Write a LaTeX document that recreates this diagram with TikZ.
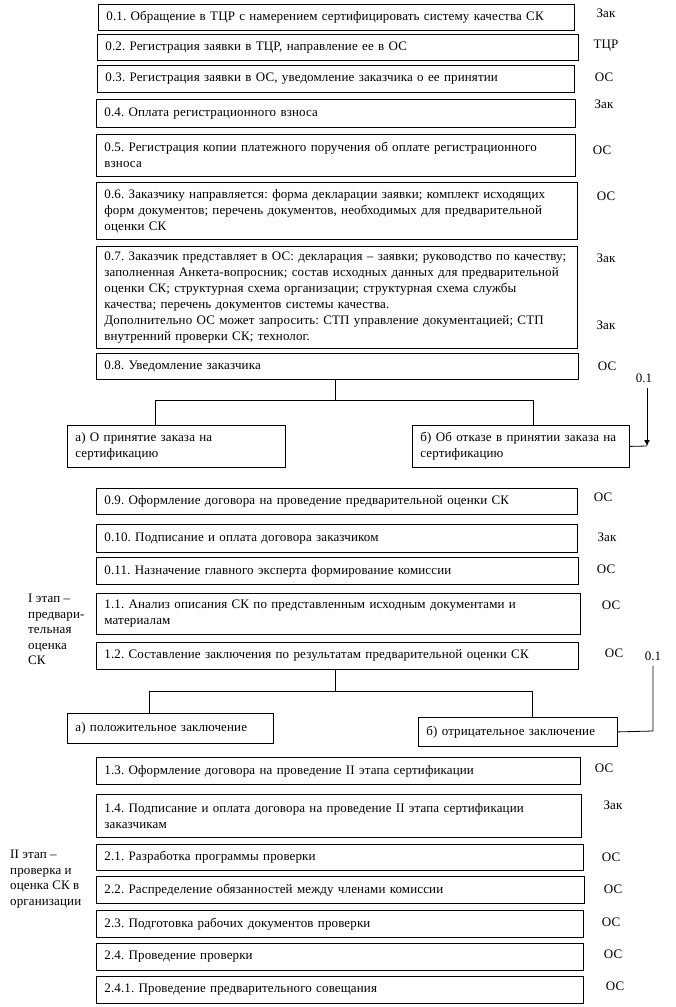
\documentclass[tikz,border=0pt]{standalone}
\usepackage{fontspec}
\setmainfont[LetterSpace=1.0]{Liberation Serif}
\usepackage{tikz}
\usetikzlibrary{arrows.meta}

\newcommand{\boxfont}{\fontsize{13}{16}\selectfont\frenchspacing}
\newcommand{\sidefont}{\fontsize{13}{15.5}\selectfont\frenchspacing}

\tikzset{
  stage/.style={draw, line width=0.8pt, anchor=north west, align=left,
    inner xsep=8pt, inner ysep=0pt, font=\boxfont},
  who/.style={inner sep=0pt, font=\boxfont},
  phase/.style={anchor=north west, align=left, inner sep=0pt, font=\sidefont},
  link/.style={line width=0.8pt}
}

\begin{document}
\begin{tikzpicture}[x=1pt, y=-1pt]
        \useasboundingbox (0,0) rectangle (675,1007);
        % Preliminary stage
        \node[stage, text width=460pt, minimum height=26pt] (n01) at (98,4) {0.1. Обращение в ТЦР с намерением сертифицировать систему качества СК};
        \node[stage, text width=465pt, minimum height=26pt] (n02) at (97,34) {0.2. Регистрация заявки в ТЦР, направление ее в ОС};
        \node[stage, text width=461pt, minimum height=27pt] (n03) at (97,65) {0.3. Регистрация заявки в ОС, уведомление заказчика о ее принятии};
        \node[stage, text width=463pt, minimum height=28pt] (n04) at (96,99) {0.4. Оплата регистрационного взноса};
        \node[stage, text width=463pt, minimum height=42pt] (n05) at (96,134) {0.5. Регистрация копии платежного поручения об оплате регистрационного\\взноса};
        \node[stage, text width=465pt, minimum height=57pt] (n06) at (96,182) {0.6. Заказчику направляется: форма декларации заявки; комплект исходящих\\форм документов; перечень документов, необходимых для предварительной\\оценки СК};
        \node[stage, text width=465pt, minimum height=102pt] (n07) at (96,246) {\mbox{0.7. Заказчик представляет в ОС: декларация – заявки; руководство по качеству;}\\заполненная Анкета-вопросник; состав исходных данных для предварительной\\оценки СК; структурная схема организации; структурная схема службы\\качества; перечень документов системы качества.\\Дополнительно ОС может запросить: СТП управление документацией; СТП\\внутренний проверки СК; технолог.};
        \node[stage, text width=466pt, minimum height=26pt] (n08) at (96,353) {0.8. Уведомление заказчика};
        \node[stage, text width=202pt, minimum height=42pt] (na) at (67,425) {а) О принятие заказа на\\сертификацию};
        \node[stage, text width=201pt, minimum height=42pt] (nb) at (412,425) {б) Об отказе в принятии заказа на\\сертификацию};
        \node[stage, text width=465pt, minimum height=26pt] (n09) at (96,488) {0.9. Оформление договора на проведение предварительной оценки СК};
        \node[stage, text width=465pt, minimum height=28pt] (n10) at (96,524) {0.10. Подписание и оплата договора заказчиком};
        \node[stage, text width=466pt, minimum height=27pt] (n11) at (96,557) {0.11. Назначение главного эксперта формирование комиссии};
        % Stage I
        \node[stage, text width=468pt, minimum height=41pt] (s11) at (96,593) {1.1. Анализ описания СК по представленным исходным документами и\\материалам};
        \node[stage, text width=466pt, minimum height=27pt] (s12) at (96,642) {1.2. Составление заключения по результатам предварительной оценки СК};
        \node[stage, text width=190pt, minimum height=30pt] (pa) at (67,713) {а) положительное заключение};
        \node[stage, text width=183pt, minimum height=29pt] (pb) at (418,717) {б) отрицательное заключение};
        \node[stage, text width=468pt, minimum height=27pt] (s13) at (96,757) {1.3. Оформление договора на проведение II этапа сертификации};
        \node[stage, text width=469pt, minimum height=43pt] (s14) at (96,794) {1.4. Подписание и оплата договора на проведение II этапа сертификации\\заказчикам};
        % Stage II
        \node[stage, text width=471pt, minimum height=26pt] (s21) at (96,844) {2.1. Разработка программы проверки};
        \node[stage, text width=472pt, minimum height=27pt] (s22) at (96,876) {2.2. Распределение обязанностей между членами комиссии};
        \node[stage, text width=471pt, minimum height=27pt] (s23) at (96,910) {2.3. Подготовка рабочих документов проверки};
        \node[stage, text width=471pt, minimum height=27pt] (s24) at (96,943) {2.4. Проведение проверки};
        \node[stage, text width=471pt, minimum height=27pt] (s241) at (96,976) {2.4.1. Проведение предварительного совещания};

        % Executors
        \node[who] (w01) at (606,13) {Зак};
        \node[who] (w02) at (606,46) {ТЦР};
        \node[who] (w03) at (604,77) {ОС};
        \node[who] (w04) at (604,104) {Зак};
        \node[who] (w05) at (602,150) {ОС};
        \node[who] (w06) at (606,196) {ОС};
        \node[who] (w07a) at (606,258) {Зак};
        \node[who] (w07b) at (606,325) {Зак};
        \node[who] (w08) at (607,366) {ОС};
        \node[who] (w09) at (603,497) {ОС};
        \node[who] (w10) at (607,537) {Зак};
        \node[who] (w11) at (606,569) {ОС};
        \node[who] (v11) at (611,605) {ОС};
        \node[who] (v12) at (614,653) {ОС};
        \node[who] (v13) at (604,768) {ОС};
        \node[who] (v14) at (613,805) {Зак};
        \node[who] (v21) at (611,857) {ОС};
        \node[who] (v22) at (613,889) {ОС};
        \node[who] (v23) at (611,922) {ОС};
        \node[who] (v24) at (613,954) {ОС};
        \node[who] (v241) at (615,986) {ОС};

        % Stage labels
        \node[phase] (ph1) at (28,594) {I этап –\\предвари-\\тельная\\оценка\\СК};
        \node[phase] (ph2) at (10,850) {II этап –\\проверка и\\оценка СК в\\организации};

        % Decision after 0.8
        \coordinate (t08) at (335,400);
        \coordinate (ta) at (155,400);
        \coordinate (tb) at (533,400);
        \draw[link] (n08.south -| t08) -- (t08);
        \draw[link] (ta |- na.north) -- (ta) -- (tb) -- (tb |- nb.north);
        \node[who] (r1) at (644,378) {0.1};
        \coordinate (c1) at (647,446);
        \draw[link, -{Latex[length=6pt, width=6pt]}] (r1.south -| c1) ++(0,5) -- (c1);
        \draw[link] (nb.east) -- (c1);

        % Decision after 1.2
        \coordinate (t12) at (335,691);
        \coordinate (tpa) at (149,691);
        \coordinate (tpb) at (532,691);
        \draw[link] (s12.south -| t12) -- (t12);
        \draw[link] (tpa |- pa.north) -- (tpa) -- (tpb) -- (tpb |- pb.north);
        \node[who] (r2) at (653,656) {0.1};
        \coordinate (c2) at (653,731);
        \draw[link] (r2.south -| c2) ++(0,5) -- (c2) -- (pb.east);
      \end{tikzpicture}
\end{document}
